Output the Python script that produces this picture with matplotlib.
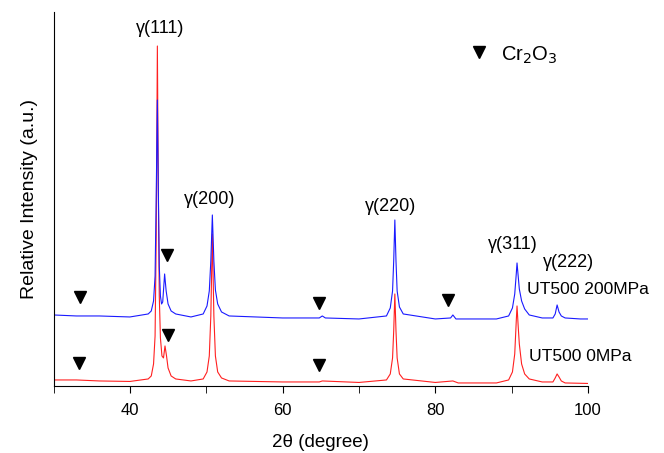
import matplotlib
matplotlib.use("Agg")
import matplotlib.pyplot as plt
from matplotlib.ticker import MultipleLocator

plt.rcParams['font.family'] = ['Liberation Sans', 'DejaVu Sans']

# XRD traces (arbitrary units, blue already stacked above red)
tt_0mpa = [30, 33, 36, 40, 42.4, 42.8, 43.1, 43.3, 43.45, 43.6, 43.72, 43.85, 44.0, 44.2, 44.4,
           44.6, 44.8, 45.0, 45.4, 46, 48, 49.6, 50.1, 50.4, 50.6, 50.8, 51.0, 51.2, 51.5, 52.0,
           53, 60, 64.8, 65.2, 70, 73.6, 74.1, 74.4, 74.55, 74.7, 74.85, 75.0, 75.3, 75.8,
           80, 82.3, 83, 88, 89.6, 90.1, 90.4, 90.6, 90.7, 90.85, 91.0, 91.3, 91.7, 92.3,
           94, 95.4, 95.7, 95.95, 96.2, 96.5, 97, 100]
int_0mpa = [6, 6, 5, 4.5, 7, 10, 22, 50, 150, 340, 200, 90, 48, 30, 28,
            40, 30, 18, 10, 7, 5, 7, 14, 30, 70, 152, 70, 30, 14, 8,
            5, 4, 4, 5, 3.5, 6, 12, 28, 55, 92, 55, 28, 12, 7,
            3.5, 5, 3, 3, 6, 14, 32, 65, 80, 60, 42, 22, 12, 7,
            4, 4, 8, 12, 9, 5, 3, 2.5]

tt_200mpa = [30, 33, 36, 40, 42.4, 42.8, 43.1, 43.3, 43.45, 43.6, 43.72, 43.85, 44.0, 44.15,
             44.3, 44.55, 44.75, 45.0, 45.4, 46, 48, 49.6, 50.1, 50.4, 50.6, 50.8, 51.0, 51.2,
             51.5, 52.0, 53, 60, 64.8, 65.2, 65.6, 70, 73.6, 74.1, 74.4, 74.55, 74.7, 74.85,
             75.0, 75.3, 75.8, 80, 82.0, 82.3, 82.7, 88, 89.6, 90.1, 90.4, 90.6, 90.7, 90.85,
             91.0, 91.3, 91.7, 92.3, 94, 95.4, 95.7, 95.95, 96.2, 96.5, 97, 99, 100]
int_200mpa = [71, 70, 70, 69, 72, 75, 85, 110, 190, 286, 200, 120, 90, 82,
              84, 112, 95, 82, 75, 72, 69, 72, 80, 95, 125, 171, 125, 96,
              82, 74, 70, 68, 68, 70, 68, 67, 70, 78, 95, 125, 166, 125,
              95, 79, 72, 67, 68, 71, 67, 67, 70, 78, 92, 112, 123, 110,
              97, 85, 77, 71, 68, 68, 72, 81, 74, 70, 68, 67, 67]

# Cr2O3 markers
cr_tt_0mpa = [33.3, 45.0, 64.8]
cr_int_0mpa = [23, 51, 21]
cr_tt_200mpa = [33.5, 44.8, 64.8, 81.7]
cr_int_200mpa = [89, 131, 83, 86]

# peak labels
peak_names = ['γ(111)', 'γ(200)', 'γ(220)', 'γ(311)', 'γ(222)']
peak_x = [43.9, 50.5, 74.1, 90.2, 97.4]
peak_y = [358, 186, 179, 141, 123]

fig = plt.figure(figsize=(6.64, 4.53), dpi=100)
ax = fig.add_axes([0.0806, 0.148, 0.805, 0.8255])

ax.plot(tt_0mpa, int_0mpa, color='#ff2020', lw=0.8)
ax.plot(tt_200mpa, int_200mpa, color='#1a1aff', lw=0.8)
ax.plot(cr_tt_0mpa, cr_int_0mpa, 'v', color='black', ms=8, ls='none')
ax.plot(cr_tt_200mpa, cr_int_200mpa, 'v', color='black', ms=8, ls='none')

for name, x, y in zip(peak_names, peak_x, peak_y):
    ax.text(x, y, name, ha='center', va='center', fontsize=13)

ax.text(92.0, 96, 'UT500 200MPa', ha='left', va='center', fontsize=12.6, clip_on=False)
ax.text(92.3, 29, 'UT500 0MPa', ha='left', va='center', fontsize=12.6, clip_on=False)

# legend for Cr2O3
ax.plot([85.75], [334], 'v', color='black', ms=8)
ax.text(88.6, 331, 'Cr$_2$O$_3$', ha='left', va='center', fontsize=14.5)

ax.set_xlim(30, 100)
ax.set_ylim(0, 374)
ax.xaxis.set_major_locator(MultipleLocator(20))
ax.xaxis.set_minor_locator(MultipleLocator(10))
ax.tick_params(axis='x', which='both', direction='out', length=5, labelsize=12, pad=7)
ax.set_yticks([])
ax.spines['top'].set_visible(False)
ax.spines['right'].set_visible(False)
ax.set_xlabel('2θ (degree)', fontsize=13.5, va='center')
ax.set_ylabel('Relative Intensity (a.u.)', fontsize=14, va='center')
ax.xaxis.set_label_coords(0.5, -0.15)
ax.yaxis.set_label_coords(-0.044, 0.5)

plt.savefig('out.png', dpi=100)
